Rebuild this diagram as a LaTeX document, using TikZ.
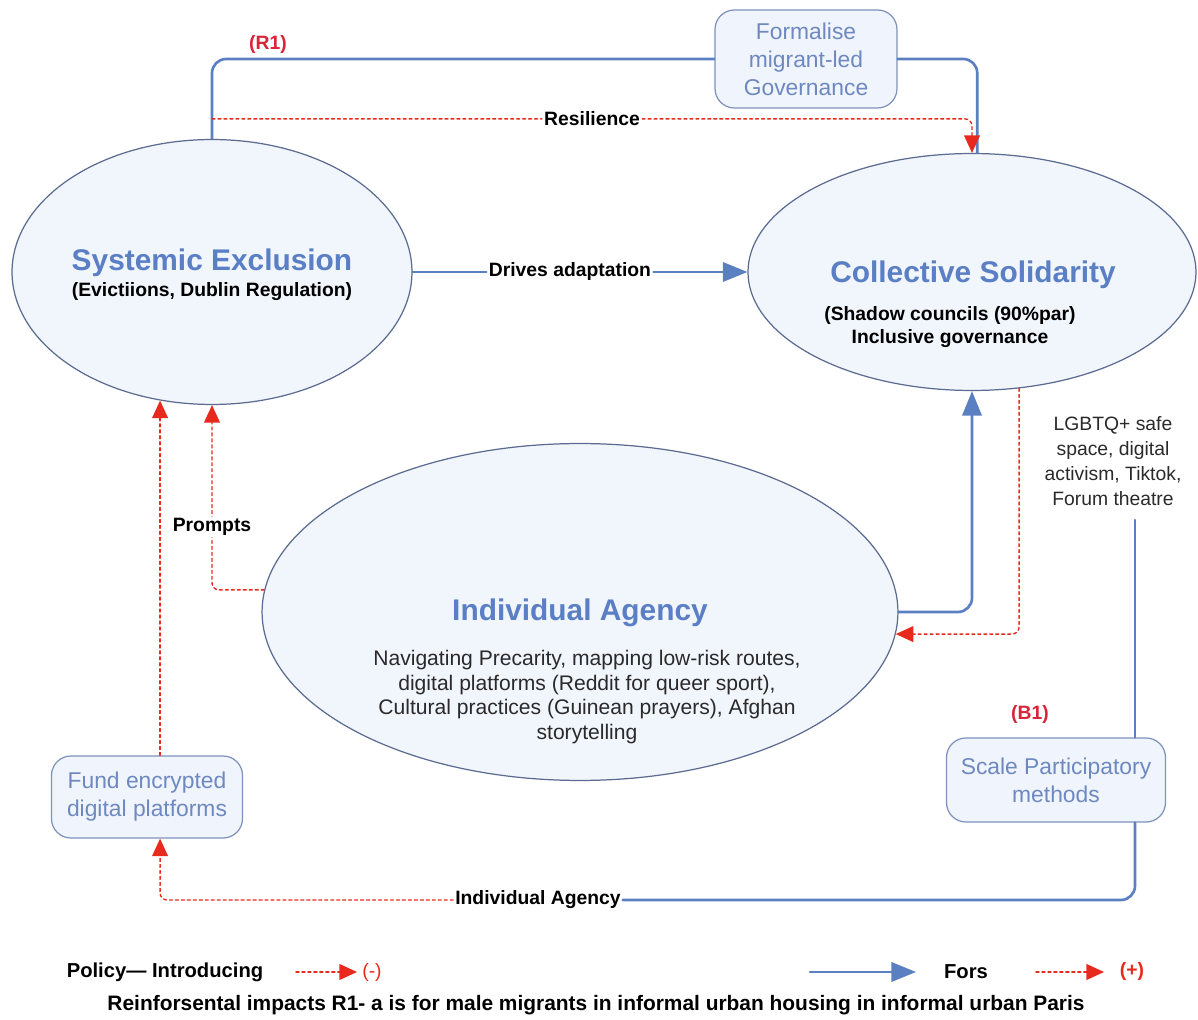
\documentclass[tikz,border=0pt]{standalone}
\usepackage{fontspec}
\setmainfont{Liberation Sans}
\usepackage{tikz}
\usetikzlibrary{arrows.meta}
\usetikzlibrary{positioning}
\usetikzlibrary{shapes.geometric}
\definecolor{loopblue}{HTML}{5B80C2}
\definecolor{titleblue}{HTML}{5A7FC4}
\definecolor{edgeslate}{HTML}{5C6C90}
\definecolor{ellfill}{HTML}{F1F5FC}
\definecolor{boxedge}{HTML}{7F92BC}
\definecolor{boxfill}{HTML}{F0F4FC}
\definecolor{boxtext}{HTML}{6E88C0}
\definecolor{linkred}{HTML}{E82A1E}
\definecolor{tagred}{HTML}{D9243A}
\definecolor{bodygray}{HTML}{2A2A2A}

\begin{document}
\begin{tikzpicture}[line cap=round,line join=round,x=0.02cm,y=-0.02cm,
  loopnode/.style={ellipse,draw=edgeslate,line width=0.7pt,fill=ellfill,inner sep=0pt},
  policy/.style={draw=boxedge,line width=0.7pt,fill=boxfill,rounded corners=11pt,align=center,
    text=boxtext,font=\fontsize{13}{16}\selectfont},
  looptitle/.style={text=titleblue,font=\bfseries\fontsize{17}{20}\selectfont},
  subtxt/.style={text=black,align=center,font=\bfseries\fontsize{11}{13}\selectfont},
  bodytxt/.style={text=bodygray,align=center,font=\fontsize{12}{14}\selectfont},
  linklabel/.style={fill=white,inner sep=1pt,text=black,font=\bfseries\fontsize{11}{13}\selectfont},
  looptag/.style={text=tagred,font=\bfseries\fontsize{11}{13}\selectfont},
  legendtxt/.style={text=black,font=\bfseries\fontsize{11.5}{13}\selectfont},
  posline/.style={draw=loopblue,line width=1.5pt,rounded corners=8pt},
  posarrow/.style={posline,-{Triangle[length=14pt,width=11pt]}},
  negline/.style={draw=linkred,line width=0.8pt,dash pattern=on 1.7pt off 1.7pt,rounded corners=4pt},
  negarrow/.style={negline,-{Triangle[length=10pt,width=9pt]}}]
\useasboundingbox[fill=white] (0,0) rectangle (1198,1020);

\node[loopnode,minimum width=8cm,minimum height=5.3cm] (excl) at (212,272) {};
\node[loopnode,minimum width=8.96cm,minimum height=4.74cm] (solid) at (972,272) {};
\node[loopnode,minimum width=12.72cm,minimum height=6.74cm] (agency) at (580,612) {};

\node[looptitle] (exclT) at (212,263) {Systemic Exclusion};
\node[subtxt] (exclS) at (212,292) {(Evictiions, Dublin Regulation)};
\node[looptitle] (solidT) at (973,275) {Collective Solidarity};
\node[subtxt] (solidS) at (950,327) {(Shadow councils (90\%par)\\Inclusive governance};
\node[looptitle] (agencyT) at (580,613) {Individual Agency};
\node[bodytxt] (agencyB) at (587,697) {Navigating Precarity, mapping low-risk routes,\\digital platforms (Reddit for queer sport),\\Cultural practices (Guinean prayers), Afghan\\storytelling};

\node[policy,minimum width=3.64cm,minimum height=1.96cm] (formal) at (806,59) {Formalise\\migrant-led\\Governance};
\node[policy,minimum width=3.82cm,minimum height=1.64cm] (fund) at (147,797) {Fund encrypted\\digital platforms};
\node[policy,minimum width=4.38cm,minimum height=1.68cm] (scale) at (1056,780) {Scale Participatory\\methods};
\node[bodytxt,font=\fontsize{11}{14.2}\selectfont] (lgbtq) at (1113,461) {LGBTQ+ safe\\space, digital\\activism, Tiktok,\\Forum theatre};

\node[looptag] (r1) at (268,45) {(R1)};
\node[looptag] (b1) at (1030,715) {(B1)};

\draw[posline] (excl.north) |- (formal.west);
\draw[posline] (formal.east) -| ([xshift=3pt]solid.north);
\draw[negarrow] ([yshift=0.4cm]excl.north) -| (solid.north) node[linklabel,pos=0.25] (resil) {Resilience};

\draw[posarrow] (excl.east) -- (solid.west) node[linklabel,pos=0.47] (drives) {Drives adaptation};
\draw[posarrow] (agency.east) -| (solid.south);
\draw[negarrow] (solid.-68) |- (agency.-4);
\draw[negarrow] (agency.176) -| (excl.south) node[linklabel,pos=0.67] (prompts) {Prompts};
\draw[negarrow] (fund.north -| excl.-112) -- (excl.-112);

\node[linklabel] (indiv) at (538,900) {Individual Agency};
\coordinate (b1drop) at (1135,520);
\draw[posline] (b1drop) -- (b1drop |- scale.north);
\draw[posline] (b1drop |- scale.south) |- (indiv.east);
\draw[negarrow] (indiv.west) -| (fund.south -| excl.-112);

\node[legendtxt] (polLeg) at (165,972) {Policy— Introducing};
\coordinate (negA) at (296,972);
\coordinate (negB) at (357,972);
\draw[negarrow] (negA) -- (negB);
\node[looptag,font=\fontsize{11}{13}\selectfont,text=linkred] (minusLeg) at (372,972) {(-)};
\coordinate (posA) at (810,972);
\coordinate (posB) at (916,972);
\draw[posarrow] (posA) -- (posB);
\node[legendtxt] (forsLeg) at (966,972) {Fors};
\coordinate (negC) at (1036,972);
\coordinate (negD) at (1104,972);
\draw[negarrow] (negC) -- (negD);
\node[looptag,text=linkred] (plusLeg) at (1132,972) {(+)};
\node[legendtxt,font=\bfseries\fontsize{11.9}{14}\selectfont] (noteLeg) at (596,1005) {Reinforsental impacts R1- a is for male migrants in informal urban housing in informal urban Paris};
\end{tikzpicture}
\end{document}
